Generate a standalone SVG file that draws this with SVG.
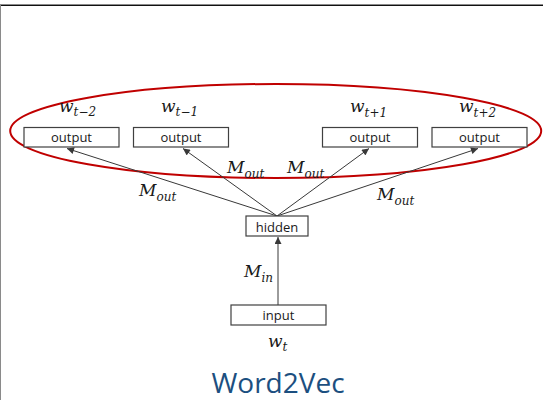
<svg xmlns="http://www.w3.org/2000/svg" width="543" height="400" viewBox="0 0 543 400">
  <defs>
    <style>
      .box { fill: #ffffff; stroke: #404040; stroke-width: 1.2; }
      .lbl { font-family: "Open Sans", "Noto Sans", sans-serif; font-size: 13px; fill: #1a1a1a; text-anchor: middle; }
      .math { font-family: "DejaVu Serif", "Liberation Serif", serif; font-style: italic; font-size: 17px; fill: #1a1a1a; }
      .sub { font-size: 12px; }
      .edge { stroke: #383838; stroke-width: 1; fill: none; marker-end: url(#arrow); }
      .title { font-family: "Open Sans", "Noto Sans", sans-serif; font-size: 28px; fill: #1c4f80; text-anchor: middle; }
    </style>
    <marker id="arrow" viewBox="0 0 10 10" refX="10" refY="5" markerWidth="8" markerHeight="7" markerUnits="userSpaceOnUse" orient="auto">
      <path d="M0,0 L10,5 L0,10 z" fill="#383838"/>
    </marker>
  </defs>

  <rect x="0" y="0" width="543" height="400" fill="#ffffff"/>

  <!-- frame -->
  <line x1="0" y1="4.5" x2="543" y2="4.5" stroke="#8a8a8a" stroke-width="1"/>
  <line x1="0" y1="5.5" x2="543" y2="5.5" stroke="#111111" stroke-width="1"/>
  <line x1="0.5" y1="5" x2="0.5" y2="400" stroke="#8a8a8a" stroke-width="1"/>

  <!-- context window highlight -->
  <ellipse cx="275.7" cy="131" rx="265.5" ry="47" fill="none" stroke="#c00000" stroke-width="2"/>

  <!-- connectors -->
  <g id="connectors">
    <line class="edge" x1="277" y1="216" x2="67" y2="148.5"/>
    <line class="edge" x1="277" y1="216" x2="183" y2="148.5"/>
    <line class="edge" x1="277" y1="216" x2="369" y2="148.5"/>
    <line class="edge" x1="277" y1="216" x2="478" y2="148.5"/>
    <line class="edge" x1="278" y1="305" x2="278" y2="237"/>
  </g>

  <!-- weight labels -->
  <g id="edge-labels">
    <text class="math" x="139" y="195.5">M<tspan class="sub" dy="5">out</tspan></text>
    <text class="math" x="227" y="173">M<tspan class="sub" dy="5">out</tspan></text>
    <text class="math" x="287" y="172.5">M<tspan class="sub" dy="5">out</tspan></text>
    <text class="math" x="377" y="199.5">M<tspan class="sub" dy="5">out</tspan></text>
    <text class="math" x="244" y="277">M<tspan class="sub" dy="5">in</tspan></text>
  </g>

  <!-- output nodes -->
  <g id="out-t-2">
    <rect class="box" x="24" y="127.5" width="95" height="19.5"/>
    <text class="lbl" x="71.5" y="141.5">output</text>
    <text class="math" x="59" y="111.5">w<tspan class="sub" dy="4.5">t−2</tspan></text>
  </g>
  <g id="out-t-1">
    <rect class="box" x="133.5" y="127.5" width="95" height="19.5"/>
    <text class="lbl" x="181" y="141.5">output</text>
    <text class="math" x="161" y="111.5">w<tspan class="sub" dy="4.5">t−1</tspan></text>
  </g>
  <g id="out-t+1">
    <rect class="box" x="322.5" y="127.5" width="95" height="19.5"/>
    <text class="lbl" x="370" y="141.5">output</text>
    <text class="math" x="350" y="112">w<tspan class="sub" dy="4.5">t+1</tspan></text>
  </g>
  <g id="out-t+2">
    <rect class="box" x="432" y="127.5" width="95" height="19.5"/>
    <text class="lbl" x="479.5" y="141.5">output</text>
    <text class="math" x="459" y="112">w<tspan class="sub" dy="4.5">t+2</tspan></text>
  </g>

  <!-- hidden layer -->
  <g id="hidden">
    <rect class="box" x="246" y="216" width="62" height="20"/>
    <text class="lbl" x="277" y="232">hidden</text>
  </g>

  <!-- input word -->
  <g id="input">
    <rect class="box" x="231" y="305" width="95" height="20"/>
    <text class="lbl" x="278.5" y="319.5">input</text>
    <text class="math" x="268" y="346.5">w<tspan class="sub" dy="4.5">t</tspan></text>
  </g>

  <text class="title" x="278" y="393">Word2Vec</text>
</svg>
